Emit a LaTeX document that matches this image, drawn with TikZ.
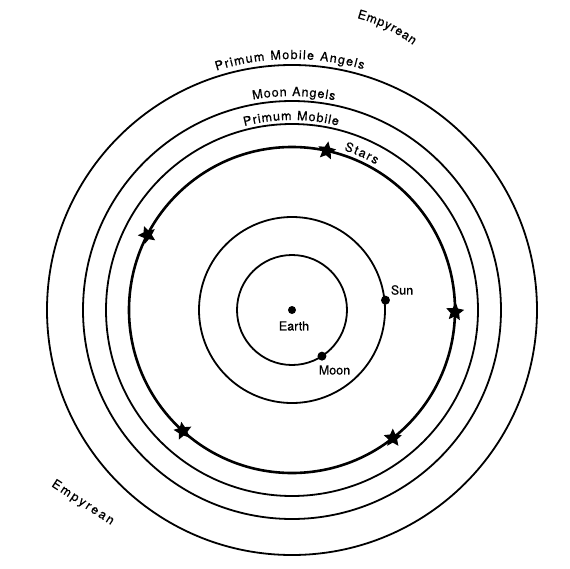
\documentclass[tikz,border=0pt]{standalone}
\usepackage{fontspec}
\setmainfont{TeX Gyre Heros}
\newfontfamily\lblfam{TeX Gyre Heros}[FakeBold=0.6]
\usetikzlibrary{shapes.geometric, positioning, decorations.text}
\newcommand{\lblfont}{\lblfam\fontsize{12.5}{14}\selectfont}

\begin{document}
\begin{tikzpicture}[x=1pt, y=1pt, font=\lblfont,
    orbit/.style={line width=1.8pt},
    dot/.style={circle, fill, inner sep=0pt, minimum size=9pt},
    starmark/.style={star, star points=5, star point ratio=2.1, fill, inner sep=0pt, minimum size=19pt},
    curved/.style={decorate, decoration={text along path, text align={fit to path}, text={|\lblfont|#1}}}]
    \useasboundingbox (-292,-258) rectangle (278,310);

    % spheres
    \draw[orbit] (0,0) circle[radius=55];
    \draw[orbit] (0,0) circle[radius=93];
    \draw[line width=2.6pt] (0,0) circle[radius=163];
    \draw[orbit] (0,0) circle[radius=186];
    \draw[orbit] (0,0) circle[radius=209];
    \draw[orbit] (0,0) circle[radius=245];

    \node[dot, minimum size=8pt] (earth) at (0,0) {};
    \node[dot] (sun) at (6:94) {};
    \node[dot] (moon) at (-57:55) {};
    \node (earthlbl) at (2,-16) {Earth};
    \node (sunlbl) at (110,20) {Sun};
    \node (moonlbl) at (42.5,-60) {Moon};

    % fixed stars
    \node[starmark, rotate=-10] (star1) at (77.7:163) {};
    \node[starmark, rotate=20] (star2) at (152.6:163) {};
    \node[starmark, rotate=-5] (star3) at (-0.7:163) {};
    \node[starmark, rotate=10] (star4) at (-132:163) {};
    \node[starmark] (star5) at (-51.8:163) {};

    % labels along the spheres
    \path[curved={Stars}] (72:168) arc[start angle=72, end angle=60, radius=168];
    \path[curved={Primum Mobile}] (104.5:190) arc[start angle=104.5, end angle=76, radius=190];
    \path[curved={Moon Angels}] (100.5:214) arc[start angle=100.5, end angle=78.5, radius=214];
    \path[curved={Primum Mobile Angels}] (107.5:251) arc[start angle=107.5, end angle=73.5, radius=251];
    \path[curved={Empyrean}] (65,292) to[bend left=10] (121,265);
    \path[curved={Empyrean}] (-241,-176) -- (-181,-215);
\end{tikzpicture}
\end{document}
